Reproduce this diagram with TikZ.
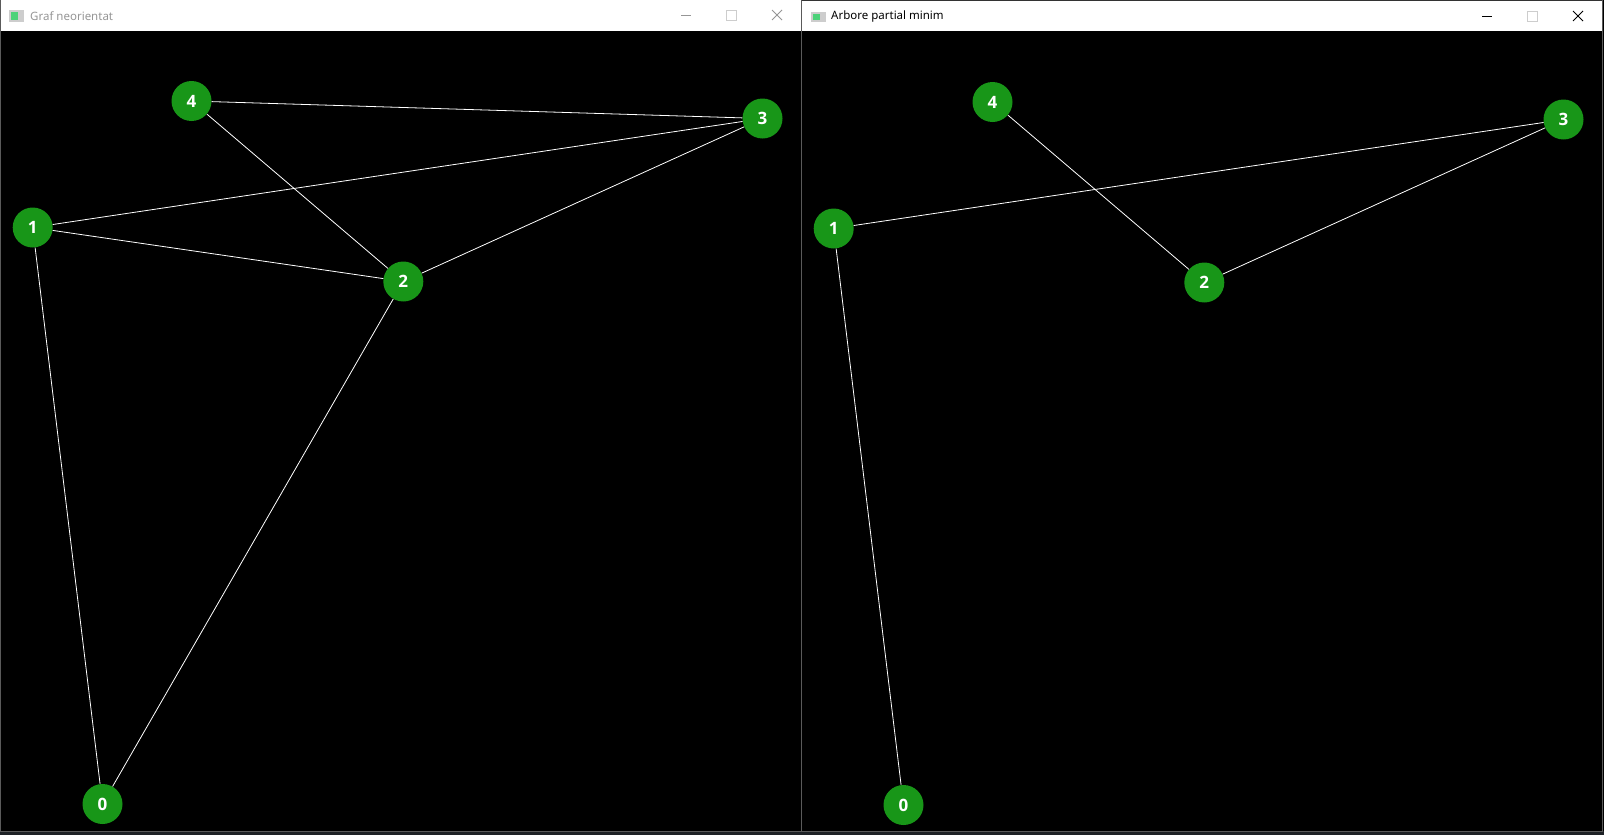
\documentclass[tikz,border=0pt]{standalone}
\usepackage{fontspec}
\setmainfont{Noto Sans}
\newfontfamily\cifre{Open Sans}
\definecolor{nodegreen}{RGB}{24,150,24}
\definecolor{framegray}{RGB}{90,90,90}
\definecolor{stripgray}{RGB}{30,34,38}
\definecolor{btngray}{RGB}{150,150,150}
\definecolor{btnlight}{RGB}{205,205,205}
\begin{document}
\begin{tikzpicture}[x=1pt,y=-1pt,
	vertex/.style={circle,fill=nodegreen,draw=none,minimum size=40pt,inner sep=0pt,text=white,font=\cifre\fontsize{17}{17}\selectfont\bfseries},
	muchie/.style={draw=white,line width=0.8pt},
	titlu/.style={anchor=west,inner sep=0pt,font=\fontsize{11.5}{12}\selectfont}]
				\useasboundingbox (0,0) rectangle (1604,835);
				\fill[black] (0,0) rectangle (1604,835);
				\fill[stripgray] (0,831) rectangle (1604,835);
				% ferestre
				\fill[white] (0,0) rectangle (801,31);
				\fill[white] (801.5,0) rectangle (1602,31);
				\draw[framegray,line width=1pt] (0.5,0) -- (0.5,831) -- (801,831) -- (801,0);
				\draw[framegray,line width=1pt] (1602,0) -- (1602,831) -- (801,831);
				\draw[black!80,line width=1pt] (801.5,0.5) -- (1602,0.5);
				% iconite
				\fill[btnlight] (9,10) rectangle (24,22);
				\fill[teal!50!green!70] (11,12) rectangle (18,20);
				\fill[btnlight] (811,12) rectangle (826,22);
				\fill[teal!50!green!70] (813,14) rectangle (820,20);
				\node[titlu,text=btngray] (t1) at (30,16.5) {Graf neorientat};
				\node[titlu,text=black] (t2) at (831,17) {Arbore partial minim};
				% butoane
				\draw[btngray,line width=0.8pt] (681,15) -- (691,15);
				\draw[btnlight,line width=0.8pt] (726,10) rectangle (736,20);
				\draw[btngray,line width=0.8pt] (772,10) -- (782,20);
				\draw[btngray,line width=0.8pt] (772,20) -- (782,10);
				\draw[black,line width=0.8pt] (1482,16) -- (1492,16);
				\draw[btnlight,line width=0.8pt] (1527,11) rectangle (1537,21);
				\draw[black,line width=0.8pt] (1573,11) -- (1583,21);
				\draw[black,line width=0.8pt] (1573,21) -- (1583,11);
				% graful
				\node[vertex] (a0) at (102.5,804) {0};
				\node[vertex] (a1) at (32.7,227.5) {1};
				\node[vertex] (a2) at (403.3,281.5) {2};
				\node[vertex] (a3) at (762.5,118.5) {3};
				\node[vertex] (a4) at (191.5,101) {4};
				\draw[muchie] (a4) -- (a3);
				\draw[muchie] (a4) -- (a2);
				\draw[muchie] (a1) -- (a3);
				\draw[muchie] (a1) -- (a2);
				\draw[muchie] (a3) -- (a2);
				\draw[muchie] (a1) -- (a0);
				\draw[muchie] (a2) -- (a0);
				% arborele
				\node[vertex] (b0) at (903.5,805) {0};
				\node[vertex] (b1) at (833.7,228.5) {1};
				\node[vertex] (b2) at (1204.3,282.5) {2};
				\node[vertex] (b3) at (1563.5,119.5) {3};
				\node[vertex] (b4) at (992.5,102) {4};
				\draw[muchie] (b4) -- (b2);
				\draw[muchie] (b1) -- (b3);
				\draw[muchie] (b3) -- (b2);
				\draw[muchie] (b1) -- (b0);
			\end{tikzpicture}
\end{document}
